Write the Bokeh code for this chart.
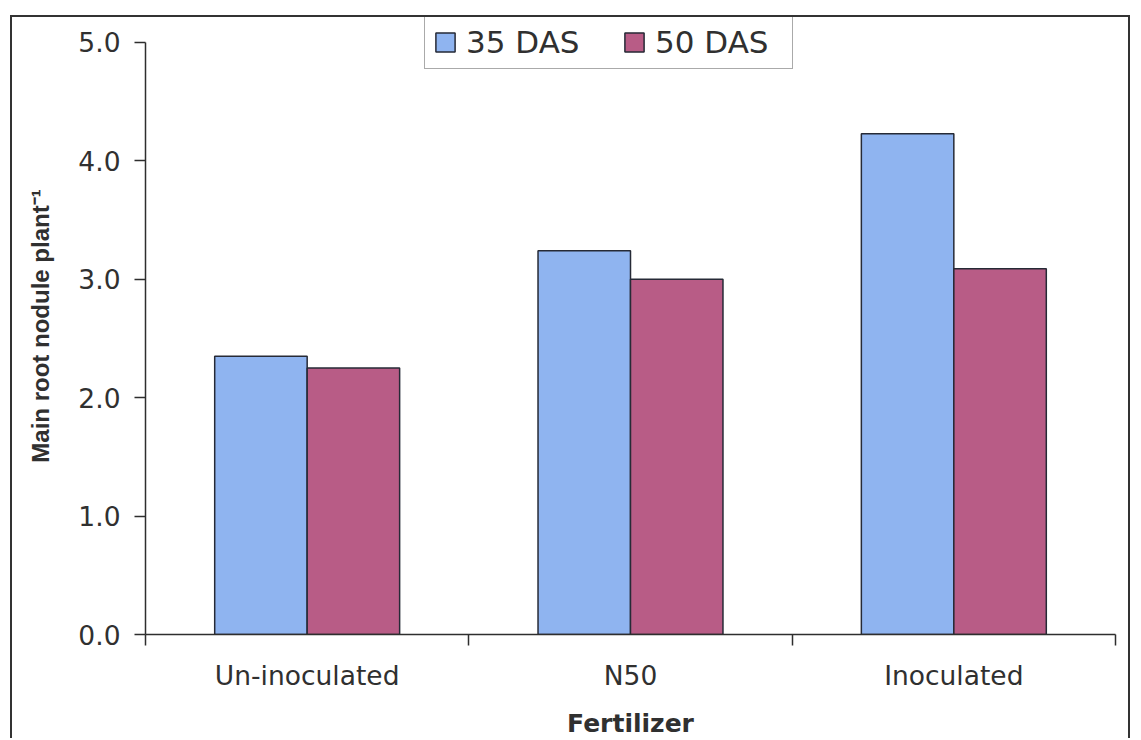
from bokeh.plotting import figure
from bokeh.models import (ColumnDataSource, FactorRange, Range1d, LinearAxis,
                          FixedTicker, NumeralTickFormatter,
                          Legend, LegendItem, InlineStyleSheet)
from bokeh.transform import dodge
from bokeh.embed import file_html
from bokeh.resources import INLINE

# Main root nodules per plant, by fertilizer treatment
treatments = ["Un-inoculated", "N50", "Inoculated"]
das35 = [2.35, 3.24, 4.23]
das50 = [2.25, 3.00, 3.09]
series_labels = ["35 DAS", "50 DAS"]
y_ticks = [0, 1, 2, 3, 4, 5]

BLUE = "#8FB4F0"
PLUM = "#B85C86"
INK = "#2e2e2e"
TEXT = "#303030"

# head room above 5.0 so the legend sits inside the plot area
Y_TOP = 5.211

src = ColumnDataSource(dict(treatment=treatments, das35=das35, das50=das50))

p = figure(x_range=FactorRange(factors=treatments, range_padding=0),
           y_range=Range1d(0, Y_TOP),
           width=1120, height=723,
           output_backend="svg", toolbar_location=None,
           x_axis_location=None,
           min_border_left=133, min_border_right=17,
           min_border_top=0, min_border_bottom=105)
p.outline_line_color = None
p.grid.visible = False
p.background_fill_color = "white"
p.border_fill_color = "white"

# chart-area frame (open at the bottom)
p.stylesheets = [InlineStyleSheet(css=(
    ":host { border-top: 2px solid #333; border-left: 2px solid #333;"
    " border-right: 2px solid #333; }"))]
p.margin = (15, 0, 0, 10)

bar_w = 0.286
b35 = p.vbar(x=dodge("treatment", -bar_w / 2, range=p.x_range), top="das35",
             width=bar_w, source=src, fill_color=BLUE,
             line_color="#262a36", line_width=1.5)
b50 = p.vbar(x=dodge("treatment", bar_w / 2, range=p.x_range), top="das50",
             width=bar_w, source=src, fill_color=PLUM,
             line_color="#262a36", line_width=1.5)

# y axis, drawn from 0.0 to 5.0 only
ya = p.yaxis[0]
ya.bounds = (y_ticks[0], y_ticks[-1])
ya.ticker = FixedTicker(ticks=y_ticks)
ya.formatter = NumeralTickFormatter(format="0.0")
ya.major_tick_out = 11
ya.major_tick_in = 0
ya.minor_tick_line_color = None
ya.major_tick_line_color = INK
ya.major_tick_line_width = 1.5
ya.axis_line_color = INK
ya.axis_line_width = 1.5
ya.major_label_standoff = 14
ya.major_label_text_font = "DejaVu Sans"
ya.major_label_text_font_size = "26.5px"
ya.major_label_text_color = TEXT
ya.axis_label = "Main root nodule plant\u207b\u00b9"
ya.axis_label_text_font = "Liberation Sans"
ya.axis_label_text_font_size = "24px"
ya.axis_label_text_font_style = "bold"
ya.axis_label_text_color = TEXT
ya.axis_label_standoff = 21

# x axis on the factor range's synthetic coordinates: group names at the
# group centres, short ticks on the boundaries between groups
centres = [i + 0.5 for i in range(len(treatments))]
edges = list(range(len(treatments) + 1))
xa = LinearAxis(ticker=FixedTicker(ticks=centres, minor_ticks=edges),
                major_label_overrides={c: t for c, t in zip(centres, treatments)},
                major_tick_out=0, major_tick_in=0,
                major_tick_line_color=None,
                minor_tick_out=11, minor_tick_in=0,
                minor_tick_line_color=INK, minor_tick_line_width=1.5,
                axis_line_color=INK, axis_line_width=1.5,
                major_label_standoff=14,
                major_label_text_font="DejaVu Sans",
                major_label_text_font_size="26.5px",
                major_label_text_color=TEXT,
                axis_label="Fertilizer",
                axis_label_text_font="DejaVu Sans",
                axis_label_text_font_size="25px",
                axis_label_text_font_style="bold",
                axis_label_text_color=TEXT,
                axis_label_standoff=15)
p.add_layout(xa, "below")

legend = Legend(items=[LegendItem(label=series_labels[0], renderers=[b35]),
                       LegendItem(label=series_labels[1], renderers=[b50])],
                location=(279, 565), orientation="horizontal",
                padding=8, spacing=27, margin=0,
                label_standoff=9, label_width=129,
                glyph_width=24, glyph_height=24,
                label_text_font="DejaVu Sans", label_text_font_size="31px",
                label_text_color=TEXT,
                border_line_color="#555555", border_line_width=1.5,
                background_fill_color="white", background_fill_alpha=1)
p.add_layout(legend, "center")

open("out.html", "w").write(file_html(p, INLINE))
